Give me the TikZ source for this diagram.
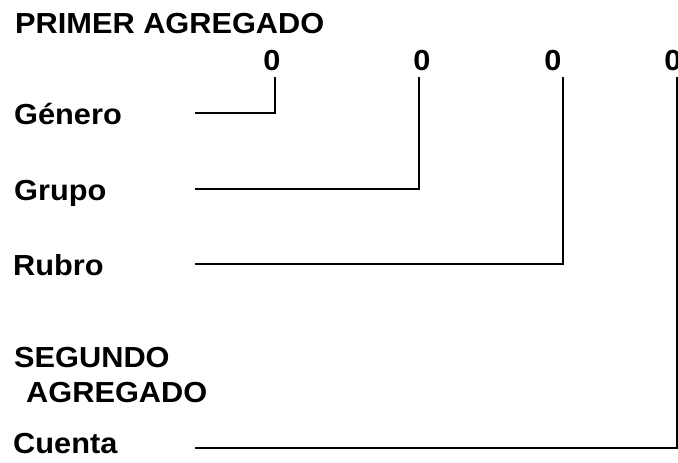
\documentclass[tikz,border=0pt]{standalone}
\usepackage{fontspec}
\setmainfont{Liberation Sans}[FakeStretch=1.06,BoldFeatures={FakeStretch=1.06}]
\begin{document}
\begin{tikzpicture}[x=1pt,y=-1pt,
  lab/.style={anchor=base west,inner sep=0pt,font=\fontsize{29}{33}\selectfont\bfseries},
  digit/.style={anchor=base,inner sep=0pt,font=\fontsize{29}{33}\selectfont\bfseries},
  conn/.style={line width=2.6pt}]
\useasboundingbox (0,0) rectangle (678,463);
\node[lab] (title) at (15,33) {PRIMER AGREGADO};
\node[digit] (z1) at (272,70) {0};
\node[digit] (z2) at (422,70) {0};
\node[digit] (z3) at (553,70) {0};
\node[digit] (z4) at (673,70) {0};
\node[lab] (genero) at (14,124) {Género};
\node[lab] (grupo) at (14,200) {Grupo};
\node[lab] (rubro) at (13,275) {Rubro};
\node[lab] (seg1) at (14,367) {SEGUNDO};
\node[lab] (seg2) at (26,402) {AGREGADO};
\node[lab] (cuenta) at (13,453) {Cuenta};
\coordinate (s1) at (195,113);
\coordinate (s2) at (195,189);
\coordinate (s3) at (195,264);
\coordinate (s4) at (195,448);
\coordinate (t1) at (275,77);
\coordinate (t2) at (419,77);
\coordinate (t3) at (563,77);
\coordinate (t4) at (677,77);
\draw[conn] (s1) -| (t1);
\draw[conn] (s2) -| (t2);
\draw[conn] (s3) -| (t3);
\draw[conn] (s4) -| (t4);
\end{tikzpicture}
\end{document}
